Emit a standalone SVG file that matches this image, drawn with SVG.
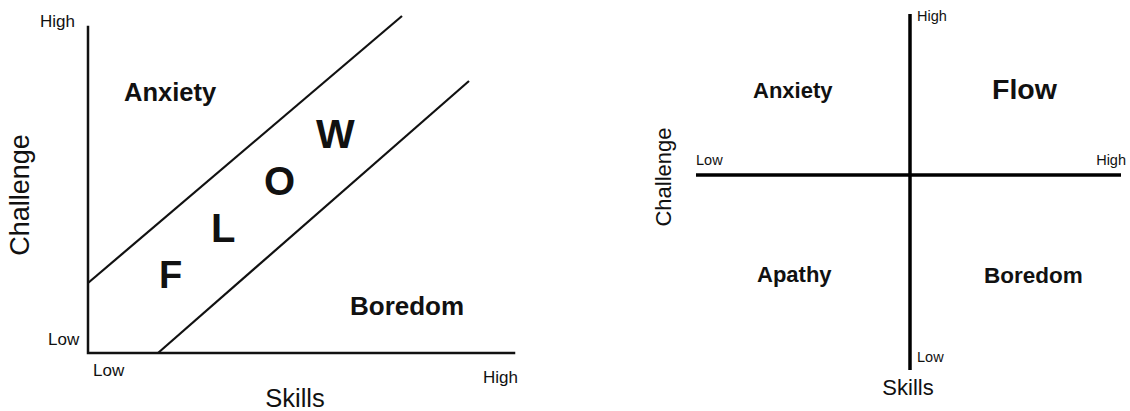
<svg xmlns="http://www.w3.org/2000/svg" width="1130" height="411" viewBox="0 0 1130 411">
<style>
text{font-family:"Liberation Sans",Arial,sans-serif;fill:#111}
.b{font-weight:bold}
.ax{stroke:#111;stroke-width:2.5;fill:none;stroke-linecap:square}
.dg{stroke:#111;stroke-width:2.2;fill:none}
.ax2{stroke:#000;stroke-width:3.5;fill:none}
.sm{font-size:17px}
.sm2{font-size:14.5px}
</style>
<rect width="1130" height="411" fill="#fff"/>
<g id="left-chart">
  <g id="left-connectors">
    <path class="ax" d="M88,27 V353 H514"/>
    <path class="dg" d="M88,283 L402,16"/>
    <path class="dg" d="M158,353 L469,81"/>
  </g>
  <g id="left-labels">
    <text class="sm" x="40" y="27">High</text>
    <text class="sm" x="48" y="345">Low</text>
    <text class="sm" x="93" y="376">Low</text>
    <text class="sm" x="483" y="383">High</text>
    <text x="295" y="407" font-size="25.5" text-anchor="middle">Skills</text>
    <text transform="translate(29,195) rotate(-90)" font-size="27" text-anchor="middle">Challenge</text>
  </g>
  <g id="left-anxiety"><text class="b" x="124" y="101" font-size="25.5">Anxiety</text></g>
  <g id="left-boredom"><text class="b" x="350" y="315" font-size="26">Boredom</text></g>
  <g id="left-flow">
    <text class="b" x="159" y="288" font-size="38">F</text>
    <text class="b" x="211" y="242" font-size="40">L</text>
    <text class="b" x="264" y="195" font-size="40">O</text>
    <text class="b" x="316" y="148" font-size="41">W</text>
  </g>
</g>
<g id="right-chart">
  <g id="right-connectors">
    <line class="ax2" x1="910" y1="14" x2="910" y2="370"/>
    <line class="ax2" x1="696" y1="175" x2="1121" y2="175"/>
  </g>
  <g id="right-labels">
    <text class="sm2" x="917" y="21">High</text>
    <text class="sm2" x="917" y="362">Low</text>
    <text class="sm2" x="696" y="165">Low</text>
    <text class="sm2" x="1126" y="165" text-anchor="end">High</text>
    <text x="908" y="395" font-size="22" text-anchor="middle">Skills</text>
    <text transform="translate(671,177) rotate(-90)" font-size="22" text-anchor="middle">Challenge</text>
  </g>
  <g id="right-anxiety"><text class="b" x="753" y="98" font-size="22">Anxiety</text></g>
  <g id="right-flow"><text class="b" x="992" y="99" font-size="28.5">Flow</text></g>
  <g id="right-apathy"><text class="b" x="757" y="282" font-size="22">Apathy</text></g>
  <g id="right-boredom"><text class="b" x="984" y="283" font-size="22.5">Boredom</text></g>
</g>
</svg>
